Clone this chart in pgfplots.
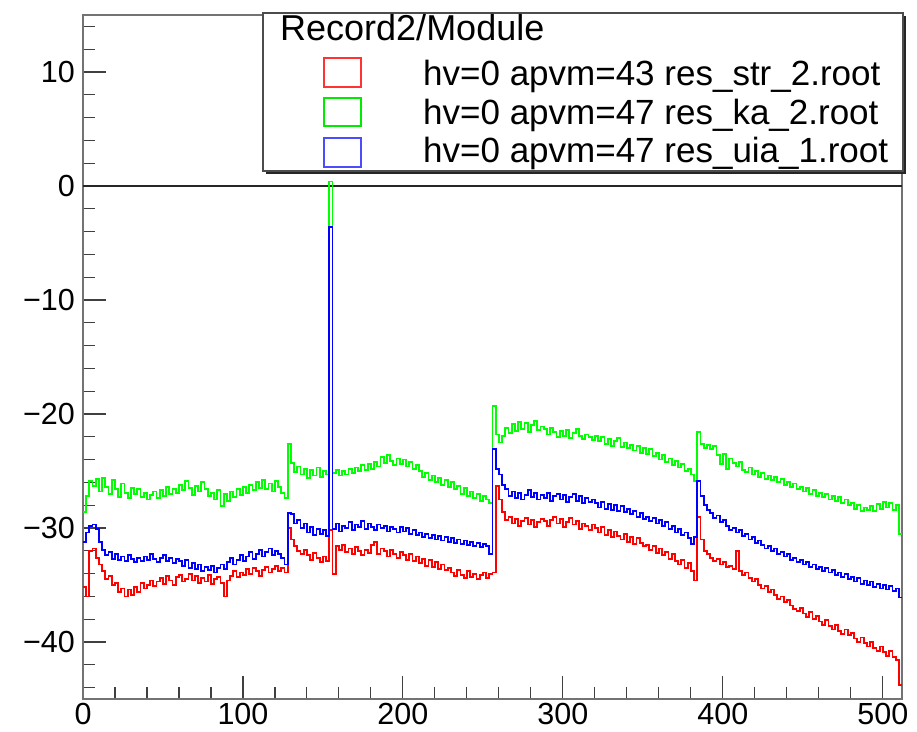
\documentclass[border=0pt]{standalone}
\usepackage{pgfplots}
\pgfplotsset{compat=1.18}
\usepackage{pgfplotstable}
\usepackage{fontspec}
\setmainfont{Liberation Sans}

\pgfplotstableread[row sep=\\]{
y\\
-35.2\\ -36.0\\
-32.0\\ -31.8\\ -32.6\\ -33.2\\
-33.8\\ -34.5\\ -34.2\\ -35.0\\ -34.8\\ -35.6\\ -35.3\\ -36.0\\
-35.4\\ -35.9\\ -35.2\\ -35.6\\ -34.8\\ -35.3\\ -35.0\\ -34.6\\ -35.1\\ -34.7\\
-34.4\\ -34.9\\ -34.2\\ -34.6\\ -35.0\\ -34.3\\ -34.1\\ -34.7\\
-34.5\\ -34.0\\ -34.6\\ -34.2\\ -34.8\\ -34.4\\ -34.7\\ -34.1\\ -34.9\\ -34.5\\ -34.3\\ -34.8\\
-36.0\\ -34.6\\ -34.2\\ -33.8\\
-34.3\\ -33.9\\ -34.1\\ -33.6\\ -34.0\\ -33.5\\ -33.8\\ -34.2\\ -33.7\\ -33.4\\ -33.9\\ -33.6\\ -33.3\\ -33.8\\ -33.5\\ -33.9\\
-30.0\\ -31.0\\ -31.6\\ -32.0\\
-32.3\\ -31.9\\ -32.4\\ -32.8\\ -32.2\\ -32.6\\ -33.0\\ -32.5\\ -32.9\\
-30.2\\ -34.0\\
-31.6\\ -31.9\\ -31.5\\ -32.1\\ -31.8\\ -32.3\\ -31.7\\ -32.0\\ -32.4\\ -31.9\\ -32.2\\ -31.5\\ -31.2\\ -32.3\\ -31.8\\ -32.0\\ -32.5\\ -31.9\\ -32.3\\ -32.6\\ -32.1\\
-32.4\\ -32.8\\ -32.3\\ -32.9\\ -32.5\\ -33.1\\ -32.7\\ -33.3\\ -32.8\\ -33.4\\ -33.0\\ -33.6\\ -33.2\\ -33.7\\
-33.5\\ -33.9\\ -34.2\\ -33.7\\ -34.1\\ -34.4\\ -33.8\\ -34.3\\ -34.0\\ -34.5\\ -34.1\\ -33.9\\ -34.4\\ -34.0\\ -33.9\\
-26.3\\ -27.5\\ -28.6\\
-29.3\\ -29.0\\ -29.6\\ -29.2\\ -29.8\\ -29.4\\ -29.1\\ -29.7\\ -29.3\\ -29.9\\ -29.5\\ -29.2\\
-29.4\\ -29.8\\ -29.3\\ -29.0\\ -29.6\\ -29.2\\ -29.9\\ -29.5\\ -29.1\\ -29.7\\ -29.4\\ -30.1\\ -29.6\\ -29.8\\ -30.2\\ -29.7\\
-30.0\\ -30.4\\ -29.9\\ -30.6\\ -30.2\\ -30.8\\ -30.3\\ -30.7\\ -31.0\\ -30.5\\ -31.2\\ -30.8\\ -31.4\\ -30.9\\ -31.3\\ -31.6\\
-31.5\\ -31.9\\ -31.6\\ -32.2\\ -31.8\\ -32.4\\ -32.1\\ -32.7\\ -32.3\\ -32.9\\ -33.2\\ -32.8\\ -33.5\\ -33.1\\ -33.8\\ -34.6\\
-29.0\\ -31.0\\ -32.0\\ -32.3\\
-32.6\\ -32.9\\ -32.7\\ -33.2\\ -33.0\\ -33.4\\ -33.3\\ -33.6\\
-32.0\\
-33.8\\ -34.1\\ -33.9\\ -34.4\\ -34.7\\ -34.5\\ -35.0\\ -35.3\\ -35.1\\ -35.6\\ -35.4\\ -35.9\\ -36.2\\ -36.0\\ -36.5\\ -36.3\\ -36.8\\ -37.1\\ -37.3\\
-37.0\\ -37.5\\ -37.8\\ -37.4\\ -38.0\\ -37.7\\ -38.2\\ -38.5\\ -38.1\\ -38.6\\ -38.9\\ -38.5\\ -39.0\\ -39.3\\ -38.9\\ -39.4\\
-39.2\\ -39.7\\ -40.0\\ -39.6\\ -40.1\\ -40.4\\ -40.0\\ -40.5\\ -40.8\\ -40.4\\ -40.9\\ -41.2\\ -40.8\\ -41.3\\ -41.6\\ -43.8\\
-43.8\\
}\redtab

\pgfplotstableread[row sep=\\]{
y\\
-28.6\\ -27.2\\
-25.9\\ -26.3\\ -25.7\\ -26.8\\
-25.6\\ -26.4\\ -27.0\\ -25.8\\ -26.6\\ -27.3\\ -26.1\\ -26.9\\ -27.4\\ -26.5\\
-27.0\\ -26.6\\ -27.3\\ -26.9\\ -27.5\\ -27.1\\ -26.8\\ -27.4\\ -26.7\\ -27.2\\ -26.4\\ -27.0\\ -26.6\\ -26.9\\
-26.2\\ -26.7\\ -25.9\\ -26.5\\ -27.1\\ -26.3\\ -26.8\\ -26.0\\ -26.6\\ -27.2\\
-26.9\\ -27.5\\ -26.7\\ -28.1\\ -27.0\\ -27.6\\ -26.8\\ -27.3\\ -26.6\\ -27.1\\
-26.4\\ -26.9\\ -26.2\\ -26.7\\ -26.0\\ -26.5\\ -25.8\\ -26.6\\ -26.1\\ -26.8\\ -25.9\\ -26.4\\ -26.9\\ -27.4\\
-22.6\\ -24.3\\ -25.1\\ -24.6\\
-25.3\\ -24.8\\ -25.6\\ -24.9\\ -25.4\\ -24.7\\ -25.5\\ -25.0\\ -25.3\\
0.4\\
-25.2\\ -24.9\\ -25.4\\ -25.0\\ -25.3\\ -24.8\\ -25.2\\ -24.7\\ -25.0\\ -24.5\\ -24.9\\ -24.4\\ -24.8\\ -24.2\\ -24.6\\
-23.8\\ -24.3\\ -23.6\\ -24.1\\ -24.5\\ -23.9\\ -24.4\\ -24.0\\ -24.6\\ -24.2\\ -24.8\\ -24.5\\
-25.0\\ -25.5\\ -25.2\\ -25.8\\ -25.4\\ -26.0\\ -25.6\\ -26.2\\ -25.8\\ -26.4\\ -26.0\\ -26.6\\
-26.3\\ -27.0\\ -26.5\\ -27.2\\ -26.8\\ -27.4\\ -27.0\\ -27.6\\ -27.2\\ -27.5\\ -27.8\\
-19.3\\
-21.8\\ -22.5\\ -21.9\\
-21.2\\ -21.7\\ -20.9\\ -21.5\\ -20.7\\ -21.3\\ -20.8\\ -21.6\\ -21.0\\ -20.6\\ -21.4\\ -21.1\\
-21.3\\ -21.8\\ -21.2\\ -21.6\\ -22.0\\ -21.5\\ -21.9\\ -21.4\\ -22.1\\ -21.7\\ -21.3\\ -21.9\\ -22.2\\ -21.8\\ -22.0\\ -22.3\\
-21.9\\ -22.4\\ -22.0\\ -22.6\\ -22.2\\ -22.8\\ -22.4\\ -22.1\\ -22.9\\ -22.5\\ -23.0\\ -22.7\\ -23.2\\ -22.8\\ -23.4\\ -23.0\\
-23.5\\ -23.1\\ -23.7\\ -23.4\\ -24.0\\ -23.6\\ -24.2\\ -23.9\\ -24.5\\ -24.1\\ -24.7\\ -24.4\\ -25.0\\ -24.8\\ -25.3\\ -25.9\\
-21.6\\ -22.6\\ -23.0\\ -22.7\\
-23.1\\ -22.8\\ -23.6\\ -24.4\\ -23.5\\ -24.8\\ -23.9\\ -24.3\\
-24.6\\ -24.2\\ -24.9\\ -25.1\\ -24.7\\ -25.3\\ -25.0\\ -25.5\\ -25.2\\ -25.7\\ -25.4\\ -25.8\\ -25.5\\ -26.0\\ -25.7\\ -26.2\\ -26.0\\ -26.4\\ -26.1\\ -26.6\\
-26.4\\ -26.8\\ -26.5\\ -27.0\\ -26.7\\ -27.2\\ -26.9\\ -27.3\\ -27.0\\ -27.5\\ -27.2\\ -27.6\\ -27.3\\ -27.8\\ -27.5\\ -28.0\\
-27.8\\ -28.3\\ -28.0\\ -28.5\\ -28.2\\ -28.4\\ -28.1\\ -28.5\\ -27.9\\ -28.3\\ -27.7\\ -28.2\\ -27.8\\ -28.4\\ -28.0\\ -30.5\\
-30.5\\
}\greentab

\pgfplotstableread[row sep=\\]{
y\\
-31.2\\ -30.4\\
-29.8\\ -29.7\\ -30.1\\ -31.2\\
-31.9\\ -32.4\\ -32.1\\ -32.7\\ -32.3\\ -32.8\\
-32.5\\ -32.9\\ -32.4\\ -32.7\\ -33.0\\ -32.6\\ -32.9\\ -32.5\\ -32.8\\ -32.3\\ -32.7\\ -33.0\\ -32.6\\ -32.4\\ -32.9\\ -32.6\\ -33.1\\ -32.7\\
-32.9\\ -33.3\\ -32.8\\ -33.5\\ -33.1\\ -33.6\\ -33.2\\ -33.8\\ -33.4\\ -33.7\\ -33.3\\ -33.9\\ -33.5\\ -33.2\\ -33.6\\
-33.0\\ -32.6\\ -33.2\\ -32.8\\ -32.4\\ -32.9\\ -32.5\\ -32.1\\ -32.7\\ -32.3\\ -31.9\\ -32.5\\ -32.1\\ -31.8\\ -32.4\\ -32.0\\ -32.3\\ -32.6\\ -33.2\\
-28.7\\ -28.8\\ -29.6\\ -29.3\\
-30.0\\ -29.6\\ -30.4\\ -29.9\\ -30.6\\ -30.1\\ -30.5\\ -30.2\\ -30.7\\
-3.6\\
-30.1\\ -29.6\\ -30.3\\ -29.8\\ -30.0\\ -29.5\\ -30.2\\ -29.7\\ -29.9\\ -29.4\\ -30.1\\ -29.6\\ -29.9\\ -30.2\\ -29.7\\ -30.0\\ -29.8\\ -30.3\\ -29.9\\ -30.1\\ -30.4\\ -29.9\\ -30.3\\ -30.0\\ -30.5\\ -30.2\\ -30.6\\
-30.4\\ -30.8\\ -30.5\\ -30.9\\ -30.6\\ -31.0\\ -30.7\\ -31.1\\ -30.8\\ -31.2\\ -30.9\\ -31.3\\ -31.0\\ -31.4\\ -31.1\\ -31.5\\ -31.2\\ -31.6\\ -31.3\\ -31.7\\ -31.4\\ -31.6\\ -32.3\\
-23.1\\
-24.8\\ -25.3\\ -26.2\\
-26.6\\ -27.2\\ -26.8\\ -27.4\\ -26.9\\ -27.5\\ -27.1\\ -26.7\\ -27.3\\ -26.9\\ -27.5\\ -27.1\\
-27.4\\ -26.9\\ -27.6\\ -27.2\\ -27.0\\ -27.5\\ -27.1\\ -27.7\\ -27.3\\ -27.0\\ -27.6\\ -27.2\\ -27.8\\ -27.4\\ -27.7\\ -27.5\\
-27.8\\ -28.2\\ -27.7\\ -28.3\\ -27.9\\ -28.4\\ -28.0\\ -28.5\\ -28.1\\ -28.6\\ -28.3\\ -28.8\\ -28.5\\ -29.0\\ -28.7\\ -29.2\\
-29.0\\ -29.4\\ -29.1\\ -29.6\\ -29.3\\ -29.8\\ -29.5\\ -30.1\\ -29.8\\ -30.4\\ -30.1\\ -30.6\\ -30.4\\ -30.9\\ -31.4\\ -30.8\\
-25.9\\ -27.2\\ -28.0\\ -28.4\\
-28.7\\ -29.1\\ -28.9\\ -29.5\\ -29.3\\ -29.8\\ -30.2\\ -30.0\\
-30.4\\ -30.2\\ -30.7\\ -30.5\\ -31.0\\ -30.8\\ -31.3\\ -31.1\\ -31.5\\ -31.8\\ -31.6\\ -32.0\\ -31.8\\ -32.3\\ -32.1\\ -32.5\\ -32.3\\ -32.8\\ -32.6\\ -33.0\\
-32.8\\ -33.2\\ -33.0\\ -33.4\\ -33.2\\ -33.6\\ -33.4\\ -33.8\\ -33.5\\ -33.9\\ -33.7\\ -34.1\\ -33.9\\ -34.3\\ -34.0\\ -34.5\\
-34.3\\ -34.7\\ -34.4\\ -34.9\\ -34.6\\ -35.0\\ -34.7\\ -35.2\\ -34.9\\ -35.3\\ -35.0\\ -35.4\\ -35.1\\ -35.5\\ -35.3\\ -36.1\\
-36.1\\
}\bluetab

\begin{document}
\begin{tikzpicture}
\path[use as bounding box] (0pt,0pt) rectangle (917pt,731pt);
\begin{axis}[
  at={(83pt,32pt)}, anchor=south west,
  scale only axis, width=819pt, height=684pt,
  xmin=0, xmax=512, ymin=-45, ymax=15,
  axis line style={draw=black!55, line width=1.4pt},
  tick pos=left, tick align=inside,
  major tick length=23pt, minor tick length=12pt,
  every tick/.style={black!75, line width=1.1pt},
  xtick={0,100,...,500},
  minor xtick={20,40,60,80,120,140,160,180,220,240,260,280,320,340,360,380,420,440,460,480},
  ytick={-40,-30,...,10},
  yticklabels={−40,−30,−20,−10,0,10},
  xticklabels={0,100,200,300,400,500},
  minor ytick={-44,-42,...,14},
  ticklabel style={font=\fontsize{30.5}{30.5}\selectfont, inner sep=0pt},
  yticklabel style={xshift=-8pt},
  xticklabel style={yshift=-4pt},
  clip=true,
]
\addplot[black!85, line width=1.4pt, forget plot] coordinates {(0,0) (512,0)};
\addplot[const plot mark left, draw=red, line width=1.8pt, no marks] table[x expr=\coordindex*2, y=y]{\redtab};
\addplot[const plot mark left, draw={rgb,1:red,0;green,1;blue,0}, line width=1.8pt, no marks] table[x expr=\coordindex*2, y=y]{\greentab};
\addplot[const plot mark left, draw=blue, line width=1.8pt, no marks] table[x expr=\coordindex*2, y=y]{\bluetab};
\end{axis}
% legend box with shadow
\fill[black!85] (266pt,557pt) rectangle (906pt,715pt);
\filldraw[fill=white, draw=black!70, line width=1.2pt] (263pt,560pt) rectangle (903pt,718pt);
\node[anchor=base west, inner sep=0pt, font=\fontsize{36}{36}\selectfont] at (280pt,690pt) {Record2/Module};
\draw[red!80, line width=1.2pt] (324pt,644pt) rectangle (361pt,673pt);
\draw[green!80!black!40!green, line width=1.2pt] (324pt,605pt) rectangle (361pt,633pt);
\draw[blue!70, line width=1.2pt] (324pt,564pt) rectangle (361pt,593pt);
\node[anchor=base west, inner sep=0pt, font=\fontsize{35}{35}\selectfont] at (423pt,645pt) {hv=0 apvm=43 res\_str\_2.root};
\node[anchor=base west, inner sep=0pt, font=\fontsize{35}{35}\selectfont] at (423pt,606pt) {hv=0 apvm=47 res\_ka\_2.root};
\node[anchor=base west, inner sep=0pt, font=\fontsize{35}{35}\selectfont] at (423pt,568pt) {hv=0 apvm=47 res\_uia\_1.root};
\end{tikzpicture}
\end{document}
